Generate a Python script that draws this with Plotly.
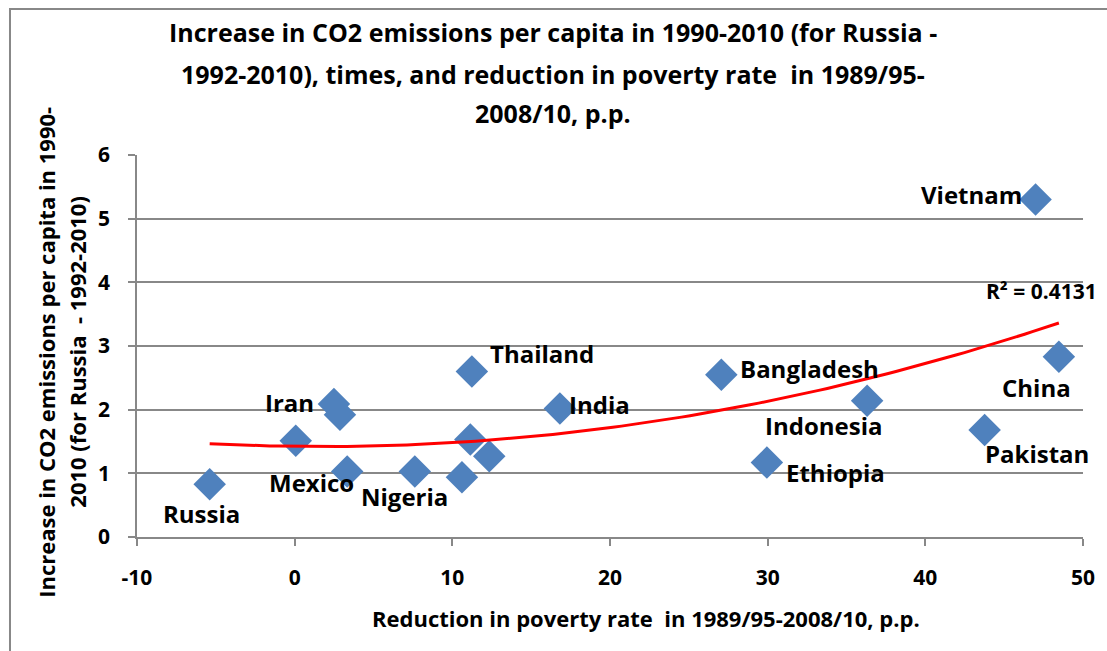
import numpy as np
import plotly.graph_objects as go

countries = ["Russia", "Mexico", "Iran", "Iran2", "P5", "Nigeria", "P7", "Thailand", "P9", "P10",
             "India", "Bangladesh", "Ethiopia", "Indonesia", "Pakistan", "Vietnam", "China"]
poverty_reduction = [-5.39, 0.07, 2.49, 2.87, 3.33, 7.62, 10.61, 11.24, 11.14, 12.34,
                     16.82, 27.06, 29.95, 36.31, 43.76, 46.99, 48.47]
co2_increase = [0.83, 1.51, 2.09, 1.92, 1.03, 1.03, 0.94, 2.60, 1.53, 1.27,
                2.02, 2.55, 1.17, 2.14, 1.68, 5.30, 2.83]

label_text = ["Russia", "Mexico", "Iran", "Nigeria", "Thailand", "India", "Bangladesh",
              "Indonesia", "Ethiopia", "Pakistan", "Vietnam", "China"]
label_x = [-5.89, 1.04, -0.33, 6.98, 15.69, 19.35, 32.65, 33.51, 34.29, 47.06, 42.95, 47.08]
label_y = [0.37, 0.86, 2.12, 0.63, 2.89, 2.08, 2.64, 1.75, 1.02, 1.31, 5.38, 2.35]

r2_text = "R² = 0.4131"
r2_pos = (47.37, 3.87)

x_ticks = [-10, 0, 10, 20, 30, 40, 50]
x_ticktext = ["-10", "0", "10", "20", "30", "40", "50"]
y_ticks = [0, 1, 2, 3, 4, 5, 6]

title_lines = ["Increase in CO2 emissions per capita in 1990-2010 (for Russia -",
               "1992-2010), times, and reduction in poverty rate  in 1989/95-",
               "2008/10, p.p."]
x_title = "Reduction in poverty rate  in 1989/95-2008/10, p.p."
y_title_lines = ["Increase in CO2 emissions per capita in 1990-",
                 "2010 (for Russia  - 1992-2010)"]

FONT = "Open Sans"

# plot area in pixels (for placing paper-referenced texts)
L, R, T, B = 136.6, 1087.0, 155.0, 537.0
PW, PH = R - L, B - T


def px(xp):
    return (xp - L) / PW


def py(yp):
    return (B - yp) / PH


# polynomial (order 2) trendline computed from the data
coef = np.polyfit(poverty_reduction, co2_increase, 2)
tx = np.linspace(min(poverty_reduction), max(poverty_reduction), 100)
ty = np.polyval(coef, tx)

fig = go.Figure()
fig.add_trace(go.Scatter(
    x=poverty_reduction, y=co2_increase, mode="markers",
    marker=dict(symbol="diamond", size=25, color="#4F81BD", line=dict(width=0)),
    showlegend=False, hoverinfo="skip"))
fig.add_trace(go.Scatter(
    x=tx, y=ty, mode="lines", line=dict(color="#FF0000", width=3),
    showlegend=False, hoverinfo="skip"))

for t, x, y in zip(label_text, label_x, label_y):
    fig.add_annotation(x=x, y=y, text=t, showarrow=False, xanchor="center", yanchor="middle",
                       font=dict(family=FONT, size=24, color="black", weight="bold"))
fig.add_annotation(x=r2_pos[0], y=r2_pos[1], text=r2_text, showarrow=False,
                   xanchor="center", yanchor="middle",
                   font=dict(family=FONT, size=21, color="black", weight="bold"))

# title (three lines)
for line, yc in zip(title_lines, [32, 74, 113]):
    fig.add_annotation(xref="paper", yref="paper", x=px(555), y=py(yc), text=line,
                       showarrow=False, xanchor="center", yanchor="middle",
                       font=dict(family=FONT, size=25, color="black", weight="bold"))

# y-axis title (two lines)
for line, xc in zip(y_title_lines, [45, 76]):
    fig.add_annotation(xref="paper", yref="paper", x=px(xc), y=py(352), text=line, textangle=-90,
                       showarrow=False, xanchor="center", yanchor="middle",
                       font=dict(family=FONT, size=22, color="black", weight="bold"))

# x-axis title
fig.add_annotation(xref="paper", yref="paper", x=px(648), y=py(618), text=x_title,
                   showarrow=False, xanchor="center", yanchor="middle",
                   font=dict(family=FONT, size=22, color="black", weight="bold"))

# outer chart border
fig.add_shape(type="rect", xref="paper", yref="paper",
              x0=px(9), x1=px(1120), y0=py(665), y1=py(9),
              line=dict(color="#888888", width=2), layer="below")

fig.update_layout(
    width=1107, height=651,
    margin=dict(l=L, r=1107 - R, t=T, b=651 - B),
    paper_bgcolor="white", plot_bgcolor="white",
    xaxis=dict(range=[-10, 50], tickvals=x_ticks, ticktext=x_ticktext, showgrid=False, zeroline=False,
               showline=True, linecolor="#888888", linewidth=1.5,
               ticks="outside", tickcolor="#888888", ticklen=7, tickwidth=1.5,
               ticklabelstandoff=14,
               tickfont=dict(family=FONT, size=21, color="black", weight="bold")),
    yaxis=dict(range=[0, 6], tickvals=y_ticks, showgrid=True, gridcolor="#888888", gridwidth=1.5,
               zeroline=False, showline=True, linecolor="#888888", linewidth=1.5,
               ticks="outside", tickcolor="#888888", ticklen=7, tickwidth=1.5,
               ticklabelstandoff=14,
               tickfont=dict(family=FONT, size=21, color="black", weight="bold")),
)

fig.write_html("out.html")
